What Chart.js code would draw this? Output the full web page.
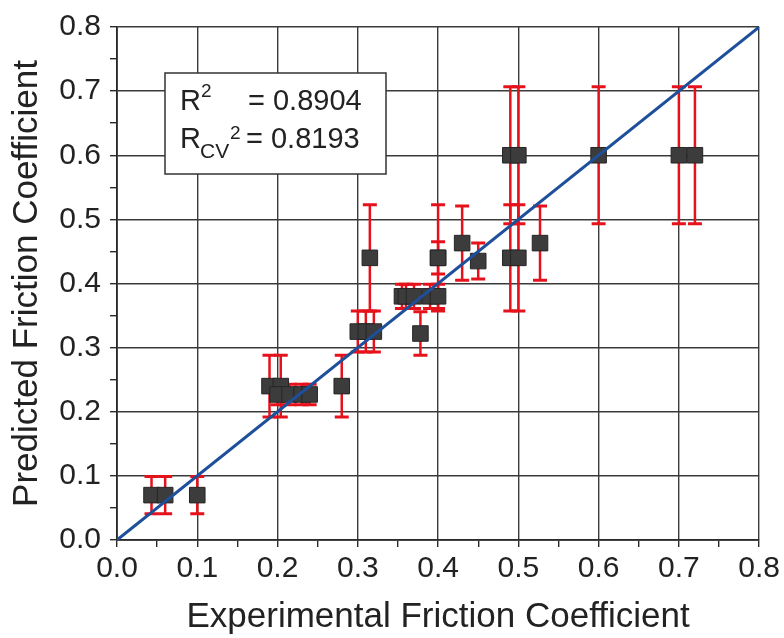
<!DOCTYPE html>
<html lang="en">
<head>
    <meta charset="UTF-8">
    <title>Predicted vs Experimental Friction Coefficient</title>
    <script src="https://cdn.jsdelivr.net/npm/chart.js"></script>
    <style>
        body { margin: 0; background: #fff; }
        #wrap { width: 784px; height: 638px; position: relative; }
    </style>
</head>
<body>
    <div id="wrap"><canvas id="frictionChart"></canvas></div>

    <script>
        // experimental (x), predicted (y) and error bar half-height
        let expX    = [0.043, 0.06, 0.10, 0.19, 0.204, 0.20, 0.215, 0.23, 0.24, 0.28,
                       0.30, 0.31, 0.32, 0.315, 0.355, 0.36, 0.37, 0.39, 0.40, 0.378,
                       0.40, 0.40, 0.43, 0.45, 0.527, 0.49, 0.50, 0.49, 0.50, 0.60,
                       0.70, 0.72];
        let predY   = [0.07, 0.07, 0.07, 0.24, 0.24, 0.227, 0.227, 0.227, 0.227, 0.24,
                       0.325, 0.325, 0.325, 0.44, 0.38, 0.38, 0.38, 0.38, 0.38, 0.322,
                       0.44, 0.44, 0.463, 0.435, 0.463, 0.44, 0.44, 0.60, 0.60, 0.60,
                       0.60, 0.60];
        let predErr = [0.029, 0.029, 0.029, 0.048, 0.048, 0.016, 0.016, 0.016, 0.016, 0.048,
                       0.032, 0.032, 0.032, 0.083, 0.019, 0.019, 0.019, 0.019, 0.019, 0.034,
                       0.083, 0.025, 0.058, 0.028, 0.058, 0.083, 0.083, 0.107, 0.107, 0.107,
                       0.107, 0.107];

        // y = x reference line
        let lineX = [0, 0.8];
        let lineY = [0, 0.8];

        let statLabels = ['0.8904', '0.8193'];

        const isMajor = v => Math.round(v * 100) % 10 === 0;

        const errorBars = {
            id: 'errorBars',
            beforeDatasetsDraw(chart) {
                let ctx = chart.ctx;
                let x = chart.scales.x, y = chart.scales.y;
                ctx.save();
                ctx.strokeStyle = '#e6121b';
                expX.forEach((v, i) => {
                    let px = x.getPixelForValue(v);
                    let top = y.getPixelForValue(predY[i] + predErr[i]);
                    let bot = y.getPixelForValue(predY[i] - predErr[i]);
                    ctx.lineWidth = 2.5;
                    ctx.beginPath();
                    ctx.moveTo(px, top); ctx.lineTo(px, bot);
                    ctx.stroke();
                    ctx.lineWidth = 3;
                    ctx.beginPath();
                    ctx.moveTo(px - 7, top); ctx.lineTo(px + 7, top);
                    ctx.moveTo(px - 7, bot); ctx.lineTo(px + 7, bot);
                    ctx.stroke();
                });
                ctx.restore();
            }
        };

        const statBox = {
            id: 'statBox',
            afterDraw(chart) {
                let ctx = chart.ctx;
                let a = chart.chartArea;
                let bx = a.left + 48, by = a.top + 46;
                ctx.save();
                ctx.fillStyle = '#fff';
                ctx.fillRect(bx, by, 221, 101);
                ctx.strokeStyle = '#333';
                ctx.lineWidth = 1.5;
                ctx.strokeRect(bx, by, 221, 101);
                ctx.fillStyle = '#222';
                ctx.textBaseline = 'alphabetic';
                ctx.font = '29px "Liberation Sans", Arial, sans-serif';
                ctx.fillText('R', bx + 15, by + 37);
                ctx.fillText('= ' + statLabels[0], bx + 83, by + 37);
                ctx.fillText('R', bx + 15, by + 75);
                ctx.fillText('= ' + statLabels[1], bx + 81, by + 75);
                ctx.font = '19px "Liberation Sans", Arial, sans-serif';
                ctx.fillText('2', bx + 36, by + 24);
                ctx.fillText('2', bx + 65, by + 66);
                ctx.font = '21px "Liberation Sans", Arial, sans-serif';
                ctx.fillText('CV', bx + 35, by + 85);
                ctx.restore();
            }
        };

        const axisFont = { family: '"Liberation Sans", Arial, sans-serif', size: 30 };
        const titleFont = { family: '"Liberation Sans", Arial, sans-serif', size: 35 };

        function axis(title, fitSize, isX) {
            return {
                type: 'linear',
                min: 0,
                max: 0.8,
                border: { color: '#2a2a2a', width: 1.8 },
                grid: {
                    color: c => isMajor(c.tick.value) ? '#3a3a3a' : 'rgba(0,0,0,0)',
                    lineWidth: 1.4,
                    tickColor: '#2a2a2a',
                    tickLength: 7
                },
                ticks: {
                    stepSize: 0.05,
                    autoSkip: false,
                    maxRotation: 0,
                    padding: isX ? 4 : 9,
                    color: '#222',
                    font: axisFont,
                    callback: v => isMajor(v) ? v.toFixed(1) : ''
                },
                title: {
                    display: true,
                    text: title,
                    color: '#222',
                    font: titleFont,
                    padding: isX ? { top: 0, bottom: 0 } : { top: 6, bottom: 0 }
                },
                afterFit: s => { if (isX) s.height = fitSize; else s.width = fitSize; }
            };
        }

        let ctx = document.getElementById('frictionChart').getContext('2d');
        new Chart(ctx, {
            type: 'scatter',
            data: {
                datasets: [
                    {
                        type: 'line',
                        data: lineX.map((v, i) => ({ x: v, y: lineY[i] })),
                        borderColor: '#1d4f9a',
                        borderWidth: 3,
                        pointRadius: 0,
                        fill: false,
                        order: 0
                    },
                    {
                        data: expX.map((v, i) => ({ x: v, y: predY[i] })),
                        pointStyle: 'rect',
                        pointRadius: 11,
                        backgroundColor: '#3c3c3c',
                        borderColor: '#262626',
                        borderWidth: 1,
                        order: 1
                    }
                ]
            },
            options: {
                responsive: true,
                maintainAspectRatio: false,
                animation: false,
                layout: { padding: { top: 25, right: 22, left: 0, bottom: 0 } },
                plugins: { legend: { display: false }, tooltip: { enabled: false } },
                scales: {
                    x: axis('Experimental Friction Coefficient', 98, true),
                    y: axis('Predicted Friction Coefficient', 117, false)
                }
            },
            plugins: [errorBars, statBox]
        });
    </script>
</body>
</html>
